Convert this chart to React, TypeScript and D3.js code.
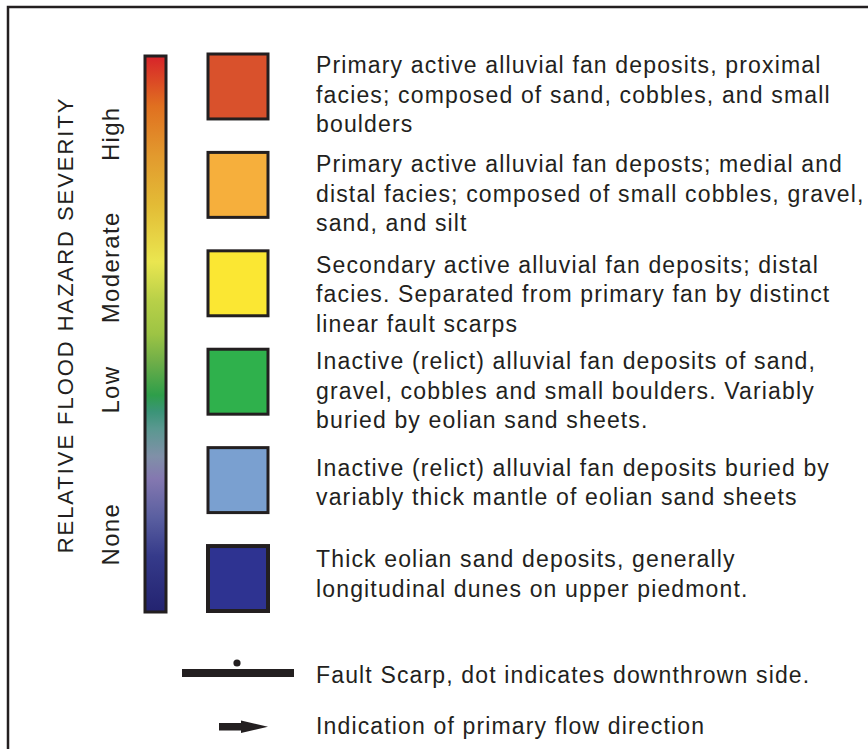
import React from "react";
import * as d3 from "d3";

// ---- Data ----
const unitColors = ["#D9512C", "#F6AF3C", "#FBE733", "#2FB14C", "#7AA0D0", "#2E3391"];
const unitDescriptions: string[][] = [
  ["Primary active alluvial fan deposits, proximal", "facies; composed of sand, cobbles, and small", "boulders"],
  ["Primary active alluvial fan deposts; medial and", "distal facies; composed of small cobbles, gravel,", "sand, and silt"],
  ["Secondary active alluvial fan deposits; distal", "facies. Separated from primary fan by distinct", "linear fault scarps"],
  ["Inactive (relict) alluvial fan deposits of sand,", "gravel, cobbles and small boulders. Variably", "buried by eolian sand sheets."],
  ["Inactive (relict) alluvial fan deposits buried by", "variably thick mantle of eolian sand sheets"],
  ["Thick eolian sand deposits, generally", "longitudinal dunes on upper piedmont."],
];
const severityLabels = ["High", "Moderate", "Low", "None"];
const severityLevels = [0.86, 0.62, 0.4, 0.14];
const gradientOffsets = [0, 0.09, 0.18, 0.27, 0.37, 0.44, 0.5, 0.55, 0.61, 0.64, 0.67, 0.72, 0.76, 0.83, 0.9, 1];
const gradientColors = [
  "#D7232A", "#E07020", "#E29A2E", "#E3BC36", "#EAE650", "#B8D048", "#9DC444", "#6FAE48",
  "#2E9E4A", "#3B9478", "#5A9890", "#8090A8", "#8478B0", "#5A5FA0", "#353A8A", "#232370",
];
const axisTitle = "RELATIVE FLOOD HAZARD SEVERITY";
const faultLabel = "Fault Scarp, dot indicates downthrown side.";
const flowLabel = "Indication of primary flow direction";

export default function App() {
  const W = 868, H = 749;
  const ink = "#231F20";
  const font = "'Liberation Sans', Arial, Helvetica, sans-serif";

  const bar = { x: 145, w: 21, y0: 56, y1: 612 };
  const sevY = d3.scaleLinear().domain([0, 1]).range([bar.y1, bar.y0]);

  const band = d3
    .scaleBand<number>()
    .domain(d3.range(unitColors.length))
    .range([54, 611])
    .paddingInner(0.34)
    .paddingOuter(0);

  const textShift = [19, 20, 22, 20, 28, 21];
  const lineH = 29.5;
  const fs = 23;
  const ls = 1.15;

  return (
    <svg width={W} height={H} style={{ position: "absolute", left: 0, top: 0, background: "#fff" }} fontFamily={font}>
      <defs>
        <linearGradient id="sev" x1="0" y1="0" x2="0" y2="1">
          {gradientOffsets.map((o, i) => (
            <stop key={i} offset={o} stopColor={gradientColors[i]} />
          ))}
        </linearGradient>
      </defs>
      <rect x={8} y={7} width={W + 20} height={H + 20} fill="#fff" stroke={ink} strokeWidth={2.5} />

      {/* axis title */}
      <text
        transform={`translate(73, 325) rotate(-90)`}
        textAnchor="middle"
        fontSize={22}
        letterSpacing={1.95}
        fill={ink}
      >
        {axisTitle}
      </text>
      {severityLabels.map((l, i) => (
        <text
          key={l}
          transform={`translate(119, ${sevY(severityLevels[i])}) rotate(-90)`}
          textAnchor="middle"
          fontSize={24}
          letterSpacing={1.3}
          fill={ink}
        >
          {l}
        </text>
      ))}

      {/* gradient bar */}
      <rect x={bar.x} y={bar.y0} width={bar.w} height={bar.y1 - bar.y0} fill="url(#sev)" stroke={ink} strokeWidth={3} />

      {/* unit swatches */}
      {unitColors.map((c, i) => (
        <g key={i}>
          <rect
            x={208}
            y={band(i)!}
            width={60}
            height={band.bandwidth()}
            fill={c}
            stroke={ink}
            strokeWidth={i === 5 ? 4 : 3}
          />
          <text fontSize={fs} fill={ink} letterSpacing={ls}>
            {unitDescriptions[i].map((line, j) => (
              <tspan key={j} x={316} y={band(i)! + textShift[i] + j * lineH}>
                {line}
              </tspan>
            ))}
          </text>
        </g>
      ))}

      {/* fault scarp symbol */}
      <rect x={182} y={669} width={112} height={8} fill={ink} />
      <circle cx={237} cy={663} r={3.6} fill={ink} />
      <text x={316} y={683} fontSize={fs} fill={ink} letterSpacing={ls}>
        {faultLabel}
      </text>

      {/* flow arrow */}
      <rect x={219} y={723} width={26} height={7.5} fill={ink} />
      <polygon points="241,720.5 268,726.8 241,733" fill={ink} />
      <text x={316} y={734} fontSize={fs} fill={ink} letterSpacing={ls}>
        {flowLabel}
      </text>
    </svg>
  );
}
